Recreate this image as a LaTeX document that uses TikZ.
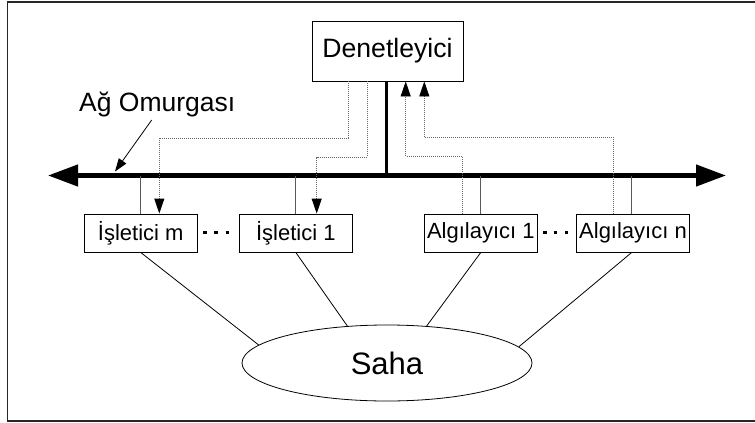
\documentclass[tikz,border=0pt]{standalone}
\usepackage{fontspec}
\setmainfont{Liberation Sans}
\usetikzlibrary{arrows.meta,shapes.geometric,calc}
\begin{document}
\begin{tikzpicture}[x=1pt,y=-1pt,
  box/.style={draw,line width=0.9pt,minimum width=113pt,minimum height=38pt,inner sep=0pt,font=\fontsize{22}{24}\selectfont},
  ctrlbox/.style={draw,line width=0.9pt,minimum width=151pt,minimum height=60pt,inner sep=0pt,font=\fontsize{26.6}{28}\selectfont},
  field/.style={draw,ellipse,line width=0.8pt,minimum width=290pt,minimum height=76pt,inner sep=0pt,font=\fontsize{31}{33}\selectfont},
  bus/.style={line width=4.5pt,{Triangle[length=30pt,width=21pt]}-{Triangle[length=30pt,width=21pt]}},
  conn/.style={line width=1pt,black!65},
  sig/.style={line width=0.9pt,black!60,dash pattern=on 1pt off 1pt,-{Triangle[length=15pt,width=10pt,fill=black,color=black]}},
  link/.style={line width=0.8pt,black},
  dotsq/.style={fill=black}
]
\useasboundingbox (0,0) rectangle (755,423);
% frame (right side lies beyond the picture)
\draw[line width=1.6pt,black!85] (760,2) -- (7.5,2) -- (7.5,421) -- (760,421);

% nodes
\node[ctrlbox] (den) at (387.5,51) {Denetleyici};
\node[box] (ism) at (140.7,233) {İşletici m};
\node[box] (is1) at (295.8,233) {İşletici 1};
\node[box] (al1) at (480.8,233) {Algılayıcı 1};
\node[box,minimum width=113.5pt] (aln) at (633,233) {Algılayıcı n};
\node[field] (saha) at (387,363) {Saha};
\node[anchor=base west,inner sep=0pt,font=\fontsize{26.5}{28}\selectfont] (lbl) at (79,111.7) {Ağ Omurgası};

% bus
\coordinate (bl) at (48,175.5);
\coordinate (br) at (726,175.5);
\coordinate (bj) at (386,175.5);
\draw[bus] (bl) -- (br);
\draw[line width=3pt] (bj |- den.south) -- (bj);

% pointer to bus
\coordinate (pa) at (151.7,120);
\coordinate (pb) at (115,171.5);
\draw[line width=0.8pt,-{Triangle[length=13pt,width=9pt]}] (pa) -- (pb);

% bus to device connectors
\draw[conn] (ism.north) -- (ism.north |- bl);
\draw[conn] (is1.north) -- (is1.north |- bl);
\draw[conn] (al1.north) -- (al1.north |- bl);
\draw[conn] ($(aln.north)+(-1.3,0)$) -- ($(aln.north |- bl)+(-1.3,0)$);

% signal paths
\draw[sig] ($(den.south)+(-39.2,0)$) -- ++(0,56.7) -| ($(ism.north)+(18.6,0)$);
\draw[sig] ($(den.south)+(-19.8,0)$) -- ++(0,75.7) -| ($(is1.north)+(20.9,0)$);
\draw[sig] ($(al1.north)+(-18.5,0)$) -- ++(0,-57.3) -| ($(den.south)+(18.2,0)$);
\draw[sig] ($(aln.north)+(-19.7,0)$) -- ++(0,-76.3) -| ($(den.south)+(36.8,0)$);

% links to field
\draw[link] (ism.south) -- (saha.172.8);
\draw[link] (is1.south) -- (saha.137.4);
\draw[link] (al1.south) -- (saha.43.4);
\draw[link] ($(aln.south)+(-1.3,0)$) -- (saha.7.7);

% ellipsis dots
\foreach \x in {205,216,227.3,545,555.7,566.7}
  \fill[dotsq] (\x-1.7,230.6) rectangle ++(3.4,3.4);
\end{tikzpicture}
\end{document}
